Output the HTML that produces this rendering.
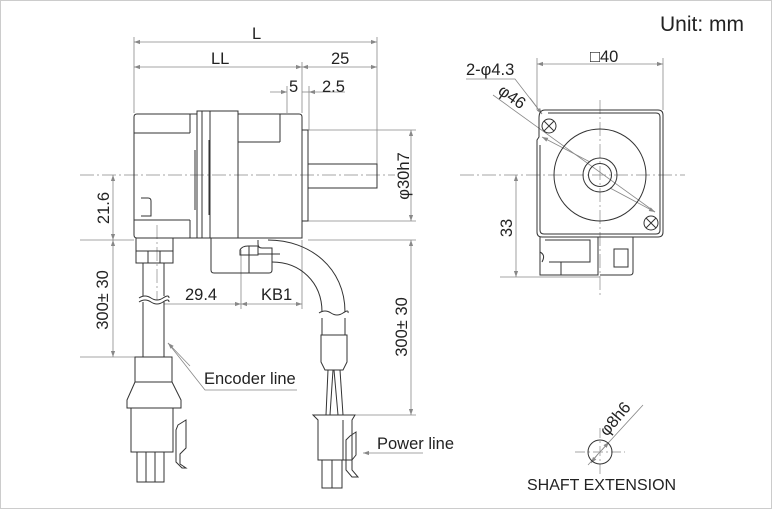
<!DOCTYPE html>
<html><head><meta charset="utf-8"><style>
html,body{margin:0;padding:0;background:#fff}
svg{display:block}
text{font-family:"Liberation Sans",sans-serif;fill:#222}
</style></head><body>
<svg width="772" height="509" viewBox="0 0 772 509" xmlns="http://www.w3.org/2000/svg">
<defs>
<marker id="a" viewBox="0 0 10 10" refX="10" refY="5" markerWidth="10" markerHeight="6" orient="auto-start-reverse" markerUnits="userSpaceOnUse"><path d="M0,1.5 L10,5 L0,8.5z" fill="#888"/></marker>
</defs>
<rect x="0.5" y="0.5" width="771" height="508" fill="#fff" stroke="#ccc"/>
<text x="660" y="31" font-size="21">Unit: mm</text>

<g stroke="#888" stroke-width="0.8" fill="none">
<line x1="134" y1="37" x2="134" y2="113"/><line x1="377" y1="37" x2="377" y2="164"/>
<line x1="302" y1="62" x2="302" y2="113"/><line x1="287" y1="86" x2="287" y2="113"/><line x1="309" y1="86" x2="309" y2="130"/>
<line x1="134" y1="42" x2="377" y2="42" marker-start="url(#a)" marker-end="url(#a)"/>
<line x1="134" y1="67" x2="302" y2="67" marker-start="url(#a)" marker-end="url(#a)"/>
<line x1="302" y1="67" x2="377" y2="67" marker-start="url(#a)" marker-end="url(#a)"/>
<line x1="270" y1="92" x2="287" y2="92" marker-end="url(#a)"/>
<line x1="302" y1="92" x2="309" y2="92"/>
<line x1="309" y1="92" x2="345" y2="92" marker-start="url(#a)"/>
<line x1="308" y1="130" x2="416" y2="130"/><line x1="308" y1="221" x2="416" y2="221"/>
<line x1="411" y1="130" x2="411" y2="221" marker-start="url(#a)" marker-end="url(#a)"/>
<line x1="80" y1="240" x2="134" y2="240"/>
<line x1="113" y1="175" x2="113" y2="240" marker-start="url(#a)" marker-end="url(#a)"/>
<line x1="113" y1="240" x2="113" y2="357" marker-start="url(#a)" marker-end="url(#a)"/>
<line x1="80" y1="357" x2="136" y2="357"/>
<line x1="241" y1="250" x2="241" y2="309"/><line x1="302" y1="240" x2="302" y2="309"/>
<line x1="164" y1="304" x2="241" y2="304" marker-end="url(#a)"/>
<line x1="241" y1="304" x2="302" y2="304" marker-start="url(#a)" marker-end="url(#a)"/>
<line x1="308" y1="240" x2="416" y2="240"/><line x1="352" y1="415" x2="416" y2="415"/>
<line x1="411" y1="240" x2="411" y2="415" marker-start="url(#a)" marker-end="url(#a)"/>
<polyline points="297,390 205,390 168,343" /><line x1="190" y1="366" x2="168" y2="343" marker-end="url(#a)"/>
<line x1="423" y1="453" x2="363" y2="453" marker-end="url(#a)"/>
<line x1="537" y1="58" x2="537" y2="110"/><line x1="663" y1="58" x2="663" y2="110"/>
<line x1="537" y1="64" x2="663" y2="64" marker-start="url(#a)" marker-end="url(#a)"/>
<polyline points="466,79 515,79 542,114"/><line x1="530" y1="98" x2="542" y2="114" marker-end="url(#a)"/>
<line x1="493" y1="95" x2="655" y2="212"/>
<line x1="590" y1="162" x2="542" y2="137" marker-end="url(#a)"/>
<line x1="610" y1="188" x2="655" y2="212" marker-end="url(#a)"/>
<line x1="500" y1="277" x2="600" y2="277"/>
<line x1="516" y1="175" x2="516" y2="277" marker-start="url(#a)" marker-end="url(#a)"/>
<line x1="588" y1="465" x2="643" y2="405"/>
<line x1="598" y1="454" x2="591" y2="463" marker-end="url(#a)"/>
<line x1="602" y1="450" x2="609" y2="442" marker-end="url(#a)"/>
</g>
<g stroke="#888" stroke-width="0.7" stroke-dasharray="14,3,2,3" fill="none">
<line x1="80" y1="175" x2="395" y2="175"/>
<line x1="460" y1="175" x2="685" y2="175"/>
<line x1="600" y1="100" x2="600" y2="298"/>
<line x1="157" y1="225" x2="157" y2="300"/>
<line x1="575" y1="452" x2="625" y2="452" stroke-dasharray="10,3,2,3"/>
<line x1="600" y1="428" x2="600" y2="476" stroke-dasharray="10,3,2,3"/>
</g>

<text x="252" y="39" font-size="16.5">L</text>
<text x="211" y="64" font-size="16.5">LL</text>
<text x="331" y="64" font-size="16.5">25</text>
<text x="289" y="92" font-size="16.5">5</text>
<text x="322" y="92" font-size="16.5">2.5</text>
<text transform="translate(409,176) rotate(-90)" font-size="16.5" text-anchor="middle">φ30h7</text>
<text transform="translate(109,208) rotate(-90)" font-size="16.5" text-anchor="middle">21.6</text>
<text transform="translate(108,300) rotate(-90)" font-size="16.5" text-anchor="middle">300± 30</text>
<text x="185" y="300" font-size="16.5">29.4</text>
<text x="261" y="300" font-size="16.5">KB1</text>
<text transform="translate(407,327) rotate(-90)" font-size="16.5" text-anchor="middle">300± 30</text>
<text x="204" y="384" font-size="16.5">Encoder line</text>
<text x="377" y="449" font-size="16.5">Power line</text>
<text x="590" y="62" font-size="16.5">□40</text>
<text x="466" y="75" font-size="16.5">2-φ4.3</text>
<text transform="translate(497,93) rotate(35)" font-size="16.5">φ46</text>
<text transform="translate(512,228) rotate(-90)" font-size="16.5" text-anchor="middle">33</text>
<text transform="translate(607,437) rotate(-50)" font-size="16.5">φ8h6</text>
<text x="527" y="490" font-size="16">SHAFT EXTENSION</text>

<g stroke="#333" stroke-width="1" fill="none">
<path d="M137,114 H197 V111 H238 V114 H299 Q302,114 302,117 V238 H137 Q134,238 134,235 V117 Q134,114 137,114Z"/>
<line x1="134" y1="133" x2="190" y2="133"/><line x1="190" y1="114" x2="190" y2="133"/>
<line x1="134" y1="220" x2="190" y2="220"/><line x1="190" y1="220" x2="190" y2="238"/>
<line x1="197" y1="111" x2="197" y2="238"/><line x1="202" y1="111" x2="202" y2="238"/>
<line x1="210" y1="111" x2="210" y2="238"/><line x1="238" y1="111" x2="238" y2="238"/>
<line x1="280" y1="114" x2="280" y2="142"/><line x1="238" y1="142" x2="280" y2="142"/>
<line x1="195" y1="150" x2="195" y2="210"/><line x1="209" y1="140" x2="209" y2="215"/>
<path d="M141,198 H148 Q151,198 151,201 V216 H141"/>
<rect x="302" y="130" width="6" height="91"/>
<rect x="308" y="164" width="69" height="24"/>
<rect x="136" y="238" width="37" height="13"/>
<rect x="136" y="251" width="37" height="12"/>
<line x1="148" y1="251" x2="148" y2="263"/><line x1="160" y1="251" x2="160" y2="263"/>
<line x1="143" y1="263" x2="143" y2="296"/><line x1="164" y1="263" x2="164" y2="296"/>
<line x1="143" y1="302" x2="143" y2="357"/><line x1="164" y1="302" x2="164" y2="357"/>
<path d="M139,298 q6,-4 12,0 t12,0 t6,0"/><path d="M139,302 q6,-4 12,0 t12,0 t6,0"/>
<rect x="135" y="357" width="37" height="25"/>
<path d="M135,382 L127,400 V408 H181 V400 L172,382"/>
<rect x="131" y="408" width="42" height="44"/>
<line x1="127" y1="408" x2="181" y2="408"/>
<rect x="137" y="452" width="9" height="30"/><rect x="146" y="452" width="9" height="30"/><rect x="155" y="452" width="9" height="30"/>
<path d="M178,425 L186,420 V448 L180,454 V464 L186,468 L182,468 L176,462 V430Z"/>
<path d="M211,238 V270 Q211,273 214,273 H269 Q272,273 272,270 V248 H262 Q258,248 258,244 V240"/>
<path d="M240,250 Q242,246 248,246 H258 V255 H240Z"/>
<line x1="249" y1="246" x2="249" y2="273"/>
<line x1="258" y1="254" x2="280" y2="254"/>
<path d="M268,240 C310,240 345,268 345,312"/>
<path d="M272,262 C300,262 322,282 322,312"/>
<line x1="322" y1="318" x2="322" y2="335"/><line x1="345" y1="318" x2="345" y2="335"/>
<path d="M319,313 q6,-4 12,0 t12,0 t5,0"/>
<path d="M321,335 H347 V362 L343,370 H325 L321,362Z"/>
<path d="M328,370 L326,415 M333,370 L330,415 M334,370 L338,415 M340,370 L343,415"/>
<path d="M313,415 H355 L352,420 V460 H318 V420Z"/>
<line x1="343" y1="420" x2="343" y2="460"/>
<rect x="322" y="460" width="10" height="28"/><rect x="332" y="460" width="10" height="28"/>
<path d="M350,436 L356,432 V455 L352,460 V470 L358,477 L352,477 L346,470 V440Z"/>
</g>

<g stroke="#333" stroke-width="1" fill="none">
<path d="M545,110 H658 Q663,110 663,115 V232 Q663,237 658,237 H542 Q537,237 537,232 V140 L539,137 V118 Q539,110 545,110Z"/>
<path d="M548,113 H656 Q660,113 660,117 V230 Q660,234 656,234 H544 Q540,234 540,230 V145"/>
<circle cx="600" cy="175" r="46"/>
<circle cx="600" cy="175" r="17"/><circle cx="600" cy="175" r="11.5"/>
<circle cx="549" cy="126" r="7"/><path d="M544,121 L554,131 M554,121 L544,131"/>
<circle cx="651" cy="223" r="7"/><path d="M646,218 L656,228 M656,218 L646,228"/>
<path d="M540,237 V275 H598 V237"/>
<path d="M545,240 H590 V262 H549"/>
<path d="M540,252 Q546,255 542,262"/>
<line x1="561" y1="262" x2="561" y2="275"/>
<path d="M600,237 H633 V272 Q633,275 630,275 H600"/>
<rect x="614" y="249" width="14" height="18"/>
<circle cx="600" cy="452" r="12"/>
</g>
</svg>
</body></html>
